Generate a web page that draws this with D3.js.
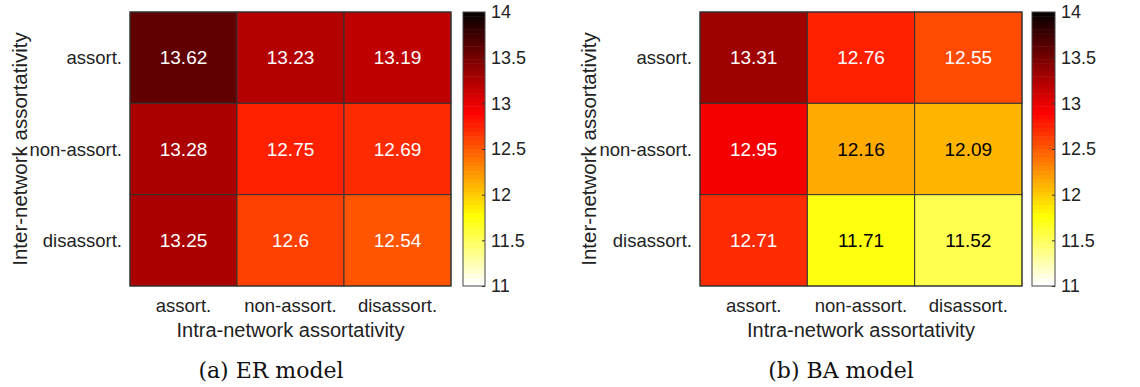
<!DOCTYPE html>
<html><head><meta charset="utf-8">
<script src="https://cdn.jsdelivr.net/npm/d3@7"></script>
<style>
body{margin:0;background:#fff;}
text{font-family:"Liberation Sans",Arial,sans-serif;}
</style></head>
<body><svg id="c" width="1140" height="387"></svg>
<script>
const intraCats = ["assort.", "non-assort.", "disassort."];
const interCats = ["assort.", "non-assort.", "disassort."];
const erValues = [
  [13.62, 13.23, 13.19],
  [13.28, 12.75, 12.69],
  [13.25, 12.6, 12.54]
];
const baValues = [
  [13.31, 12.76, 12.55],
  [12.95, 12.16, 12.09],
  [12.71, 11.71, 11.52]
];
const colorTicks = [11, 11.5, 12, 12.5, 13, 13.5, 14];
const captions = ["(a)  ER model", "(b)  BA model"];
const xTitle = "Intra-network assortativity";
const yTitle = "Inter-network assortativity";
const cMin = 11, cMax = 14;

// MATLAB hot(64), flipped
function hotMap(m){
  const n = Math.floor(3*m/8), out=[];
  for(let i=0;i<m;i++){
    const r = i<n ? (i+1)/n : 1;
    const g = i<n ? 0 : (i<2*n ? (i-n+1)/n : 1);
    const b = i<2*n ? 0 : (i-2*n+1)/(m-2*n);
    out.push(d3.rgb(r*255,g*255,b*255).formatHex());
  }
  return out.reverse();
}
const cmap = hotMap(64);
const color = v => {
  let k = Math.floor((v-cMin)/(cMax-cMin)*64);
  k = Math.max(0, Math.min(63, k));
  return cmap[k];
};

const svg = d3.select("#c");
const panels = [
  {vals: erValues, x0:130, x1:451, cbx:463, cbw:22, ytx:19, capx:271, cap:captions[0]},
  {vals: baValues, x0:700, x1:1022, cbx:1032, cbw:23, ytx:588, capx:841, cap:captions[1]}
];
const yTop=12, yBot=286;

panels.forEach(p=>{
  const g = svg.append("g");
  const x = d3.scaleBand().domain(intraCats).range([p.x0,p.x1]);
  const y = d3.scaleBand().domain(interCats).range([yTop,yBot]);
  const cells = [];
  p.vals.forEach((row,i)=>row.forEach((v,j)=>cells.push({r:interCats[i], c:intraCats[j], v})));
  g.selectAll("rect.cell").data(cells).join("rect")
    .attr("x",d=>x(d.c)).attr("y",d=>y(d.r))
    .attr("width",x.bandwidth()).attr("height",y.bandwidth())
    .attr("fill",d=>color(d.v)).attr("stroke","#333").attr("stroke-width",1);
  g.selectAll("text.val").data(cells).join("text")
    .attr("x",d=>x(d.c)+x.bandwidth()/2).attr("y",d=>y(d.r)+y.bandwidth()/2)
    .attr("text-anchor","middle").attr("dominant-baseline","central")
    .attr("font-size",19).attr("fill",d=>d.v<12.3?"#000":"#fff")
    .text(d=>d.v);
  g.append("rect").attr("x",p.x0).attr("y",yTop).attr("width",p.x1-p.x0).attr("height",yBot-yTop)
    .attr("fill","none").attr("stroke","#333").attr("stroke-width",1);
  g.selectAll("text.xt").data(intraCats).join("text")
    .attr("x",d=>x(d)+x.bandwidth()/2).attr("y",305).attr("text-anchor","middle")
    .attr("dominant-baseline","central").attr("font-size",18.5).attr("fill","#222").text(d=>d);
  g.selectAll("text.yt").data(interCats).join("text")
    .attr("x",p.x0-8).attr("y",d=>y(d)+y.bandwidth()/2).attr("text-anchor","end")
    .attr("dominant-baseline","central").attr("font-size",18.5).attr("fill","#222").text(d=>d);
  g.append("text").attr("x",(p.x0+p.x1)/2).attr("y",330).attr("text-anchor","middle")
    .attr("dominant-baseline","central").attr("font-size",20).attr("fill","#222").text(xTitle);
  g.append("text").attr("transform",`translate(${p.ytx},${(yTop+yBot)/2}) rotate(-90)`)
    .attr("text-anchor","middle").attr("dominant-baseline","central")
    .attr("font-size",20.5).attr("fill","#222").text(yTitle);
  g.append("text").attr("x",p.capx).attr("y",370).attr("text-anchor","middle")
    .attr("dominant-baseline","central").attr("font-size",22)
    .style("font-family","'DejaVu Serif','Liberation Serif',serif").attr("fill","#111").text(p.cap);
  const cs = d3.scaleLinear().domain([cMin,cMax]).range([yBot,yTop]);
  const steps = d3.range(64);
  g.selectAll("rect.cb").data(steps).join("rect")
    .attr("x",p.cbx).attr("width",p.cbw)
    .attr("y",k=>cs(cMin+(k+1)*(cMax-cMin)/64)).attr("height",k=>cs(cMin+k*(cMax-cMin)/64)-cs(cMin+(k+1)*(cMax-cMin)/64)+0.5)
    .attr("fill",k=>cmap[k]);
  g.append("rect").attr("x",p.cbx).attr("y",yTop).attr("width",p.cbw).attr("height",yBot-yTop)
    .attr("fill","none").attr("stroke","#444").attr("stroke-width",1);
  const ax = g.append("g").attr("transform",`translate(${p.cbx+p.cbw},0)`)
    .call(d3.axisRight(cs).tickValues(colorTicks).tickSize(-3).tickPadding(6).tickFormat(d3.format("")));
  ax.select(".domain").remove();
  ax.selectAll("line").attr("stroke","#333");
  ax.selectAll("text").attr("font-size",18).attr("fill","#222").style("font-family","'Liberation Sans',Arial,sans-serif");
});
</script></body></html>
